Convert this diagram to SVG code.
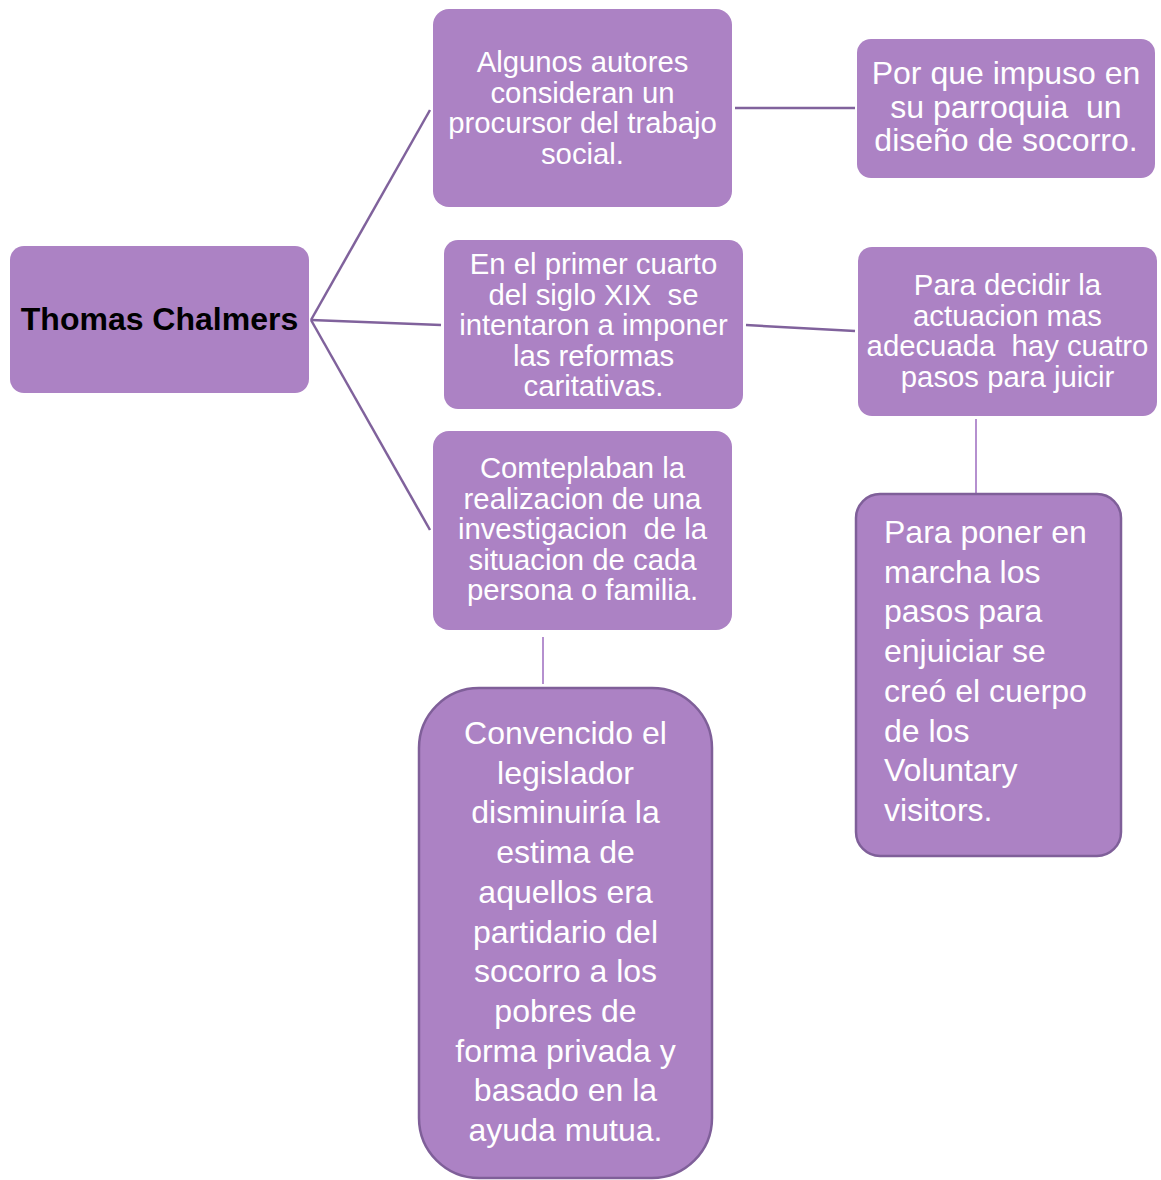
<svg xmlns="http://www.w3.org/2000/svg" width="1161" height="1180" viewBox="0 0 1161 1180">
<style>
.box{fill:#ac82c4}
.boxs{fill:#ac82c4;stroke:#7f5f99;stroke-width:2.5}
text{white-space:pre}
.t{font-family:"Liberation Sans",Arial,sans-serif;fill:#fff;text-anchor:middle}
.t26{font-size:29.3px}
.t29{font-size:32px}
.t30{font-size:32px}
.dk{stroke:#80629c;stroke-width:2.5;fill:none}
.lt{stroke:#b590cf;stroke-width:2;fill:none}
</style>
<rect width="1161" height="1180" fill="#fff"/>
<g id="connectors">
<line class="dk" x1="311" y1="320" x2="430" y2="110"/>
<line class="dk" x1="311" y1="320" x2="441" y2="325"/>
<line class="dk" x1="311" y1="320" x2="430" y2="530"/>
<line class="dk" x1="735" y1="108" x2="855" y2="108"/>
<line class="dk" x1="746" y1="325" x2="855" y2="331"/>
<line class="lt" x1="976" y1="419" x2="976" y2="493"/>
<line class="lt" x1="543" y1="637" x2="543" y2="684"/>
</g>
<g id="root">
<rect class="box" x="10" y="246" width="299" height="147" rx="14"/>
<text x="159.5" y="329.5" font-family="Liberation Sans,Arial,sans-serif" font-size="32" font-weight="bold" fill="#000" text-anchor="middle">Thomas Chalmers</text>
</g>
<g id="n1">
<rect class="box" x="433" y="9" width="299" height="198" rx="16"/>
<text class="t t26"><tspan x="582.5" y="72.3">Algunos autores</tspan><tspan x="582.5" y="102.5">consideran un</tspan><tspan x="582.5" y="133.3">procursor del trabajo</tspan><tspan x="582.5" y="163.5">social.</tspan></text>
</g>
<g id="n1r">
<rect class="box" x="857" y="39" width="298" height="139" rx="14"/>
<text class="t t29"><tspan x="1006" y="84">Por que impuso en</tspan><tspan x="1006" y="117.5">su parroquia  un</tspan><tspan x="1006" y="151">diseño de socorro.</tspan></text>
</g>
<g id="n2">
<rect class="box" x="444" y="240" width="299" height="169" rx="14"/>
<text class="t t26"><tspan x="593.5" y="274">En el primer cuarto</tspan><tspan x="593.5" y="304.5">del siglo XIX  se</tspan><tspan x="593.5" y="335">intentaron a imponer</tspan><tspan x="593.5" y="365.5">las reformas</tspan><tspan x="593.5" y="396">caritativas.</tspan></text>
</g>
<g id="n2r">
<rect class="box" x="858" y="247" width="299" height="169" rx="14"/>
<text class="t t26"><tspan x="1007.5" y="295">Para decidir la</tspan><tspan x="1007.5" y="325.5">actuacion mas</tspan><tspan x="1007.5" y="356">adecuada  hay cuatro</tspan><tspan x="1007.5" y="386.5">pasos para juicir</tspan></text>
</g>
<g id="n3">
<rect class="box" x="433" y="431" width="299" height="199" rx="16"/>
<text class="t t26"><tspan x="582.5" y="478">Comteplaban la</tspan><tspan x="582.5" y="508.5">realizacion de una</tspan><tspan x="582.5" y="539">investigacion  de la</tspan><tspan x="582.5" y="569.5">situacion de cada</tspan><tspan x="582.5" y="600">persona o familia.</tspan></text>
</g>
<g id="n3b">
<rect class="boxs" x="419" y="688" width="293" height="490" rx="60"/>
<text class="t t30"><tspan x="565.5" y="744">Convencido el</tspan><tspan x="565.5" y="783.7">legislador</tspan><tspan x="565.5" y="823.4">disminuiría la</tspan><tspan x="565.5" y="863.1">estima de</tspan><tspan x="565.5" y="902.8">aquellos era</tspan><tspan x="565.5" y="942.5">partidario del</tspan><tspan x="565.5" y="982.2">socorro a los</tspan><tspan x="565.5" y="1021.9">pobres de</tspan><tspan x="565.5" y="1061.6">forma privada y</tspan><tspan x="565.5" y="1101.3">basado en la</tspan><tspan x="565.5" y="1141">ayuda mutua.</tspan></text>
</g>
<g id="n2rb">
<rect class="boxs" x="856" y="494" width="265" height="362" rx="24"/>
<text class="t t30" style="text-anchor:start"><tspan x="884" y="543">Para poner en</tspan><tspan x="884" y="582.7">marcha los</tspan><tspan x="884" y="622.4">pasos para</tspan><tspan x="884" y="662.1">enjuiciar se</tspan><tspan x="884" y="701.8">creó el cuerpo</tspan><tspan x="884" y="741.5">de los</tspan><tspan x="884" y="781.2">Voluntary</tspan><tspan x="884" y="820.9">visitors.</tspan></text>
</g>
</svg>
